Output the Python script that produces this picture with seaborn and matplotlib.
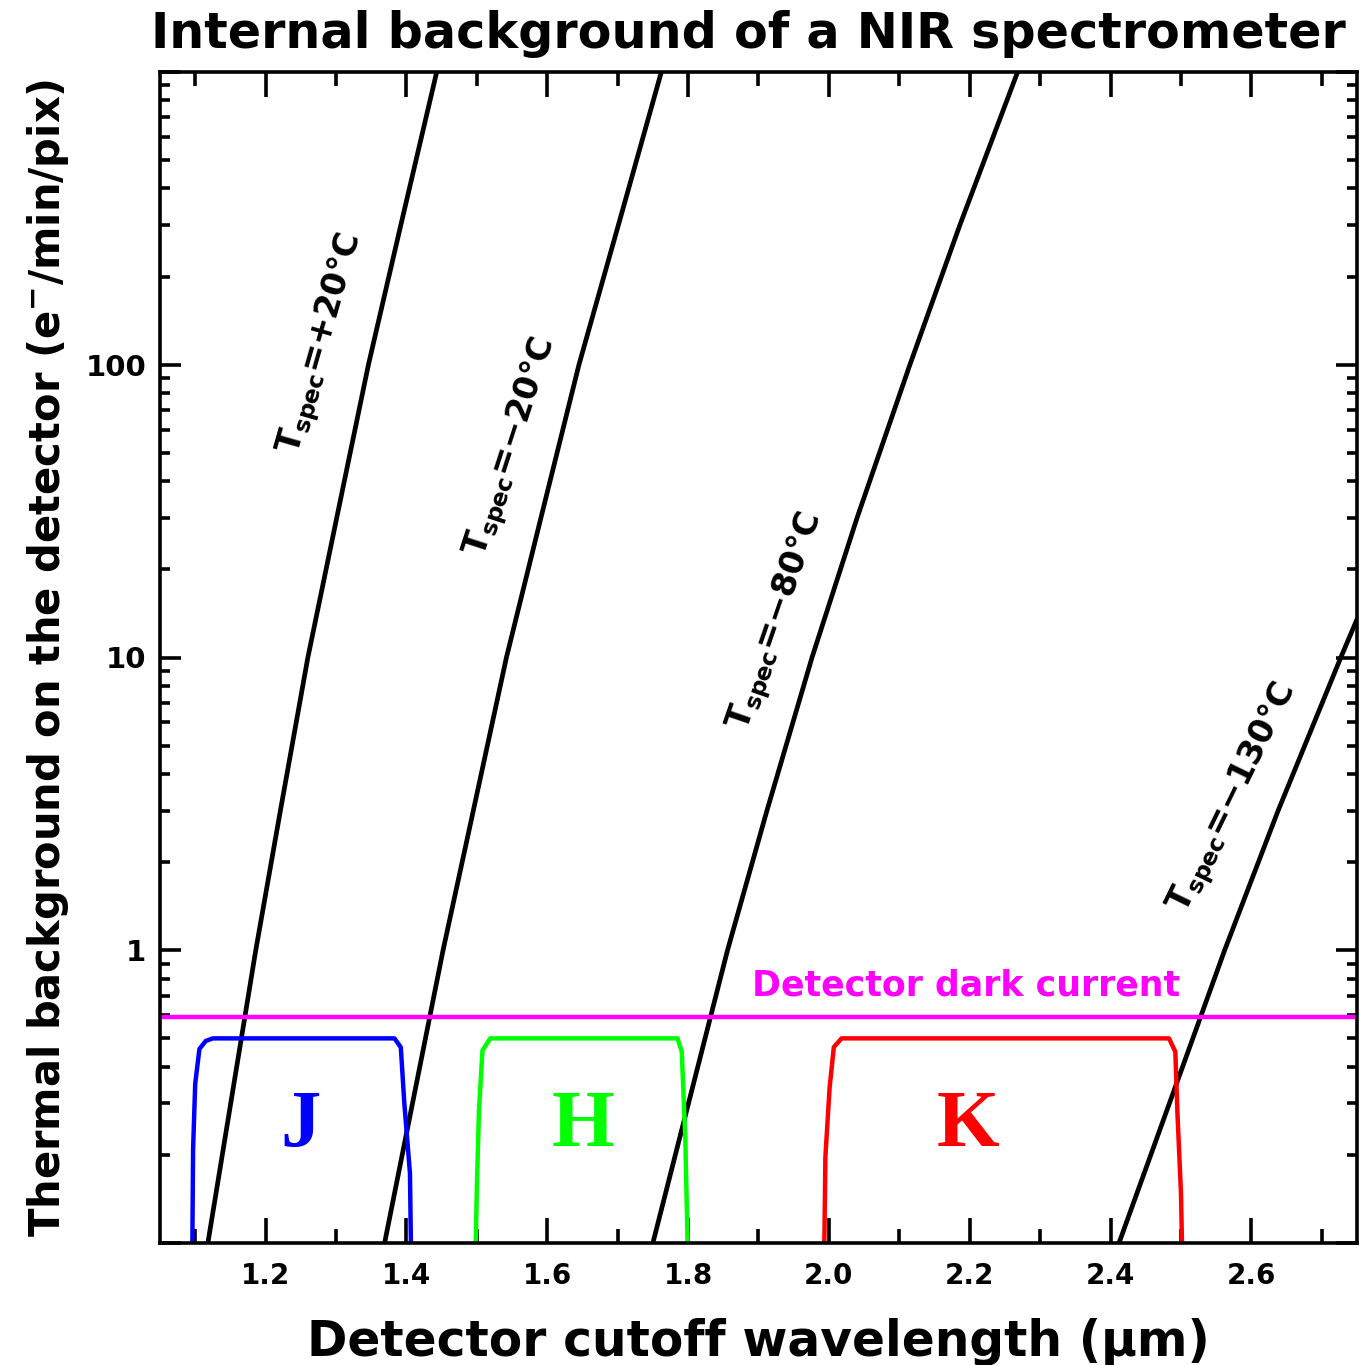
import numpy as np
import pandas as pd
import matplotlib
matplotlib.use("Agg")
import matplotlib.pyplot as plt
import matplotlib.ticker as mticker
import seaborn as sns

# ---------------- data ----------------
bg_levels = [0.1, 1, 3, 10, 30, 100, 300, 1000]
wave_p20 = [1.118, 1.186, 1.221, 1.260, 1.301, 1.346, 1.392, 1.443]
wave_m20 = [1.369, 1.452, 1.495, 1.542, 1.591, 1.645, 1.701, 1.762]
wave_m80 = [1.750, 1.856, 1.912, 1.976, 2.040, 2.115, 2.186, 2.268]
wave_m130 = [2.412, 2.562, 2.638, 2.727, 2.750]
bg_m130 = [0.1, 1, 3, 10, 13.5]

temp_labels = ["+20", "\u221220", "\u221280", "\u2212130"]
label_x = [1.280, 1.550, 1.926, 2.576]
label_y = [118, 52, 13.2, 3.3]
label_rot = [74, 72, 71, 64]

dark_current = 0.59

J_wave = [1.095, 1.097, 1.100, 1.106, 1.115, 1.125, 1.383, 1.392, 1.397, 1.405, 1.408]
J_trans = [0.05, 0.21, 0.35, 0.46, 0.49, 0.50, 0.50, 0.466, 0.30, 0.173, 0.05]
H_wave = [1.496, 1.500, 1.503, 1.508, 1.519, 1.785, 1.791, 1.796, 1.802]
H_trans = [0.05, 0.155, 0.284, 0.455, 0.50, 0.50, 0.45, 0.23, 0.05]
K_wave = [1.992, 1.995, 2.001, 2.007, 2.018, 2.483, 2.492, 2.495, 2.500, 2.504]
K_trans = [0.05, 0.197, 0.34, 0.467, 0.50, 0.50, 0.45, 0.277, 0.148, 0.05]

band_names = ["J", "H", "K"]
band_x = [1.249, 1.650, 2.197]
band_y = [0.25, 0.25, 0.25]
band_colors = ["#0000ff", "#00ff00", "#ff0000"]

x_major = [1.2, 1.4, 1.6, 1.8, 2.0, 2.2, 2.4, 2.6]
y_major = [0.1, 1, 10, 100, 1000]
y_major_labels = ["", "1", "10", "100", ""]

# ---------------- figure ----------------
sns.set_theme(style="ticks")
plt.rcParams["font.family"] = ["DejaVu Sans"]
plt.rcParams["font.weight"] = "bold"
plt.rcParams["mathtext.fontset"] = "dejavusans"
for key in ["text.color", "axes.labelcolor", "xtick.color", "ytick.color", "axes.edgecolor"]:
    plt.rcParams[key] = "black"

fig = plt.figure(figsize=(13.61, 13.65), dpi=100)
ax = fig.add_axes([160 / 1361, 1 - 1243 / 1365, (1357 - 160) / 1361, (1243 - 72) / 1365])

curves = [(wave_p20, bg_levels), (wave_m20, bg_levels), (wave_m80, bg_levels), (wave_m130, bg_m130)]
for w, b in curves:
    df = pd.DataFrame({"wave": w, "bg": b})
    sns.lineplot(data=df, x="wave", y="bg", ax=ax, color="black", lw=3.4,
                 sort=False, estimator=None)

for w, t, c in zip([J_wave, H_wave, K_wave], [J_trans, H_trans, K_trans], band_colors):
    df = pd.DataFrame({"wave": w, "trans": t})
    sns.lineplot(data=df, x="wave", y="trans", ax=ax, color=c, lw=3.2,
                 sort=False, estimator=None)

ax.axhline(dark_current, color="#ff00ff", lw=3.2)

ax.set_yscale("log")
ax.set_xlim(1.05, 2.75)
ax.set_ylim(0.1, 1000)

# labels on lines
for lab, lx, ly, rot in zip(temp_labels, label_x, label_y, label_rot):
    ax.text(lx, ly, r"$\mathbf{T_{spec}}$=" + lab + "\u00b0C", rotation=rot,
            rotation_mode="anchor", ha="center", va="center",
            fontsize=24, fontweight="bold", color="black")

for name, bx, by, c in zip(band_names, band_x, band_y, band_colors):
    ax.text(bx, by, name, color=c, fontsize=58, family="Liberation Serif",
            ha="center", va="center", fontweight="bold")

ax.text(2.195, 0.76, "Detector dark current", color="#ff00ff", fontsize=25,
        fontweight="bold", ha="center", va="center")

# axes styling
for s in ax.spines.values():
    s.set_linewidth(2.6)
    s.set_color("black")
    s.set_visible(True)

ax.xaxis.set_major_locator(mticker.FixedLocator(x_major))
ax.xaxis.set_minor_locator(mticker.MultipleLocator(0.1))
ax.xaxis.set_major_formatter(mticker.FormatStrFormatter("%.1f"))
ax.yaxis.set_major_locator(mticker.FixedLocator(y_major))
ax.yaxis.set_major_formatter(mticker.FixedFormatter(y_major_labels))
ax.yaxis.set_minor_locator(mticker.LogLocator(base=10, subs=np.arange(2, 10)))
ax.yaxis.set_minor_formatter(mticker.NullFormatter())

ax.tick_params(axis="x", which="major", direction="in", length=18, width=2.6,
               top=True, bottom=True, labelsize=20, pad=14)
ax.tick_params(axis="x", which="minor", direction="in", length=10, width=2.6,
               top=True, bottom=True)
ax.tick_params(axis="y", which="major", direction="in", length=15, width=2.6,
               left=True, right=True, labelsize=21, pad=10)
ax.tick_params(axis="y", which="minor", direction="in", length=7, width=2.6,
               left=True, right=True)
for lbl in ax.get_xticklabels() + ax.get_yticklabels():
    lbl.set_fontweight("bold")

ax.set_xlabel("Detector cutoff wavelength (\u00b5m)", fontsize=35, fontweight="bold", labelpad=20)
ax.set_ylabel(r"Thermal background on the detector (e$^{\mathbf{-}}$/min/pix)", fontsize=30,
              fontweight="bold", labelpad=10)
fig.text(748.5 / 1361, 1 - 34 / 1365, "Internal background of a NIR spectrometer",
         fontsize=35.5, fontweight="bold", ha="center", va="center")

fig.savefig("out.png", dpi=100, facecolor="white")
